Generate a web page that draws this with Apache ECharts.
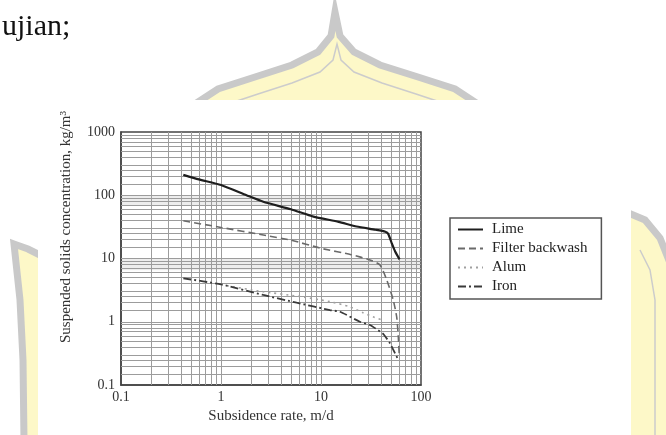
<!DOCTYPE html>
<html>
<head>
<meta charset="utf-8">
<script src="https://cdn.jsdelivr.net/npm/echarts@6/dist/echarts.min.js"></script>
<style>
html,body{margin:0;padding:0;background:#fff;}
#c{width:666px;height:435px;}
</style>
</head>
<body>
<div id="c"></div>
<script>
// ---- data ----
const seriesNames = ['Lime', 'Filter backwash', 'Alum', 'Iron'];
const limeData = [[0.42,210],[0.6,178],[1,145],[1.8,100],[2.65,79],[5,60],[8.4,46],[15,38],[22.7,32],[35,28.5],[44,26.5],[47,24.5],[51,17.4],[55,13],[61,9.7]];
const filterData = [[0.42,39.4],[1,31],[2.65,23.5],[5,19.5],[10,14.5],[20,11.5],[30.9,9.5],[38.9,7.9],[45.4,4.6],[52.8,2.2],[57.1,1.2],[59.3,0.58],[60.7,0.28]];
const alumData = [[1,3.85],[2,3.2],[2.65,2.98],[5.7,2.55],[12.3,2.08],[19.5,1.72],[26,1.4],[33,1.2],[42,1.05]];
const ironData = [[0.42,4.86],[1,3.9],[2.65,2.65],[5.7,2.0],[12.3,1.53],[15.5,1.44],[24.5,1.0],[30.9,0.89],[38.9,0.70],[42,0.64],[49,0.456],[55,0.317],[59.3,0.25]];
// tick / grid values
const xTicks = [0.1, 1, 10, 100];
const yTicks = [0.1, 1, 10, 100, 1000];
const xGrid = [0.2,0.3,0.4,0.5,0.6,0.7,0.8,0.9,1,2,3,4,5,6,7,8,9,10,20,30,40,50,60,70,80,90];
const yGrid = [0.15,0.2,0.25,0.3,0.4,0.5,0.6,0.7,0.8,0.9,1,1.5,2,2.5,3,4,5,6,7,8,9,10,15,20,25,30,40,50,60,70,80,90,100,150,200,250,300,400,500,600,700,800,900];
const bandRanges = [[70,100],[6.5,10]];
const xName = 'Subsidence rate, m/d';
const yName = 'Suspended solids concentration, kg/m\u00B3';
const pageText = 'ujian;';

const SERIF = '"Liberation Serif", "Times New Roman", serif';
const chart = echarts.init(document.getElementById('c'), null, {renderer: 'canvas'});

const gridLines = [];
xGrid.forEach(v => gridLines.push({xAxis: v}));
yGrid.forEach(v => gridLines.push({yAxis: v}));

const WM_FILL = '#fdf8c8', WM_STROKE = '#c9c9c9';
const option = {
  animation: false,
  backgroundColor: '#ffffff',
  graphic: {
    elements: [
      {type: 'polygon', z: -5, shape: {points: [[335,12],[331,36],[318,52],[292,65],[255,77],[218,89],[195,104],[186,120],[490,120],[478,104],[455,89],[418,77],[380,65],[354,52],[340,36]]},
       style: {fill: WM_FILL, stroke: WM_STROKE, lineWidth: 7}},
      {type: 'polyline', z: -4, shape: {points: [[214,120],[228,104],[258,94],[292,83],[320,72],[333,60],[337,44],[341,60],[354,72],[382,83],[416,94],[446,104],[460,120]]},
       style: {fill: null, stroke: '#cccccc', lineWidth: 1.5}},
      {type: 'polygon', z: -5, shape: {points: [[14,244],[28,249],[42,256],[42,440],[24,440],[23,360],[20,300]]},
       style: {fill: WM_FILL, stroke: WM_STROKE, lineWidth: 7}},
      {type: 'polygon', z: -5, shape: {points: [[626,212],[645,220],[660,238],[672,268],[672,440],[626,440]]},
       style: {fill: WM_FILL, stroke: WM_STROKE, lineWidth: 7}},
      {type: 'polyline', z: -4, shape: {points: [[640,250],[650,270],[655,300],[655,340],[655,440]]},
       style: {fill: null, stroke: '#cccccc', lineWidth: 1.5}},
      {type: 'rect', z: -3, shape: {x: 38, y: 100, width: 593, height: 340}, style: {fill: '#ffffff'}},
      {type: 'text', z: 10, x: 2, y: 12, style: {text: pageText, font: '30px ' + SERIF, fill: '#111', textAlign: 'left', textVerticalAlign: 'top'}},
      {type: 'text', z: 10, x: 66, y: 227, rotation: Math.PI / 2,
       style: {text: yName, font: '15px ' + SERIF, fill: '#333', textAlign: 'center', textVerticalAlign: 'middle'}}
    ]
  },
  grid: {left: 121, top: 132, width: 300, height: 253, show: true, borderColor: '#444', borderWidth: 1.5, backgroundColor: 'transparent'},
  legend: {
    data: seriesNames,
    orient: 'vertical',
    left: 450, top: 218,
    padding: [4, 14, 5, 7],
    itemGap: 4,
    itemWidth: 25,
    itemHeight: 12,
    borderColor: '#555',
    borderWidth: 1.5,
    backgroundColor: '#fff',
    itemStyle: {opacity: 0},
    textStyle: {fontFamily: SERIF, fontSize: 15, color: '#222', lineHeight: 15, padding: [0, 0, 0, 4]}
  },
  xAxis: {
    type: 'log', logBase: 10, min: xTicks[0], max: xTicks[xTicks.length - 1],
    name: xName, nameLocation: 'middle', nameGap: 21,
    nameTextStyle: {fontFamily: SERIF, fontSize: 15, color: '#333'},
    axisLine: {show: true, lineStyle: {color: '#444', width: 1.5}},
    axisTick: {show: false},
    splitLine: {show: false},
    axisLabel: {fontFamily: SERIF, fontSize: 14, color: '#333', margin: 5, formatter: v => String(v)}
  },
  yAxis: {
    type: 'log', logBase: 10, min: yTicks[0], max: yTicks[yTicks.length - 1],
    axisLine: {show: true, lineStyle: {color: '#444', width: 1.5}},
    axisTick: {show: false},
    splitLine: {show: false},
    axisLabel: {fontFamily: SERIF, fontSize: 14, color: '#333', margin: 6, formatter: v => String(v)}
  },
  series: [
    {
      name: 'grid', type: 'line', data: [], silent: true, z: 1,
      markLine: {silent: true, symbol: ['none', 'none'], z: 1, animation: false,
        label: {show: false}, lineStyle: {color: '#9c9c9c', width: 1, type: 'solid'},
        emphasis: {disabled: true}, data: gridLines},
      markArea: {silent: true, z: 1, itemStyle: {color: 'rgba(0,0,0,0.07)'},
        data: bandRanges.map(r => [{yAxis: r[0]}, {yAxis: r[1]}])}
    },
    {name: 'Lime', type: 'line', data: limeData, showSymbol: false, symbol: 'none', smooth: 0.2, z: 4,
      lineStyle: {color: '#1e1e1e', width: 2.2, type: 'solid'}, itemStyle: {color: '#1e1e1e'}},
    {name: 'Filter backwash', type: 'line', data: filterData, showSymbol: false, symbol: 'none', smooth: 0.2, z: 4,
      lineStyle: {color: '#6a6a6a', width: 1.6, type: [7, 4]}, itemStyle: {color: '#6a6a6a'}},
    {name: 'Alum', type: 'line', data: alumData, showSymbol: false, symbol: 'none', smooth: 0.2, z: 4,
      lineStyle: {color: '#a0a0a0', width: 1.6, type: [2, 4]}, itemStyle: {color: '#a0a0a0'}},
    {name: 'Iron', type: 'line', data: ironData, showSymbol: false, symbol: 'none', smooth: 0.2, z: 4,
      lineStyle: {color: '#3a3a3a', width: 1.8, type: [8, 3, 2, 3]}, itemStyle: {color: '#3a3a3a'}}
  ]
};
chart.setOption(option);
</script>
</body>
</html>
